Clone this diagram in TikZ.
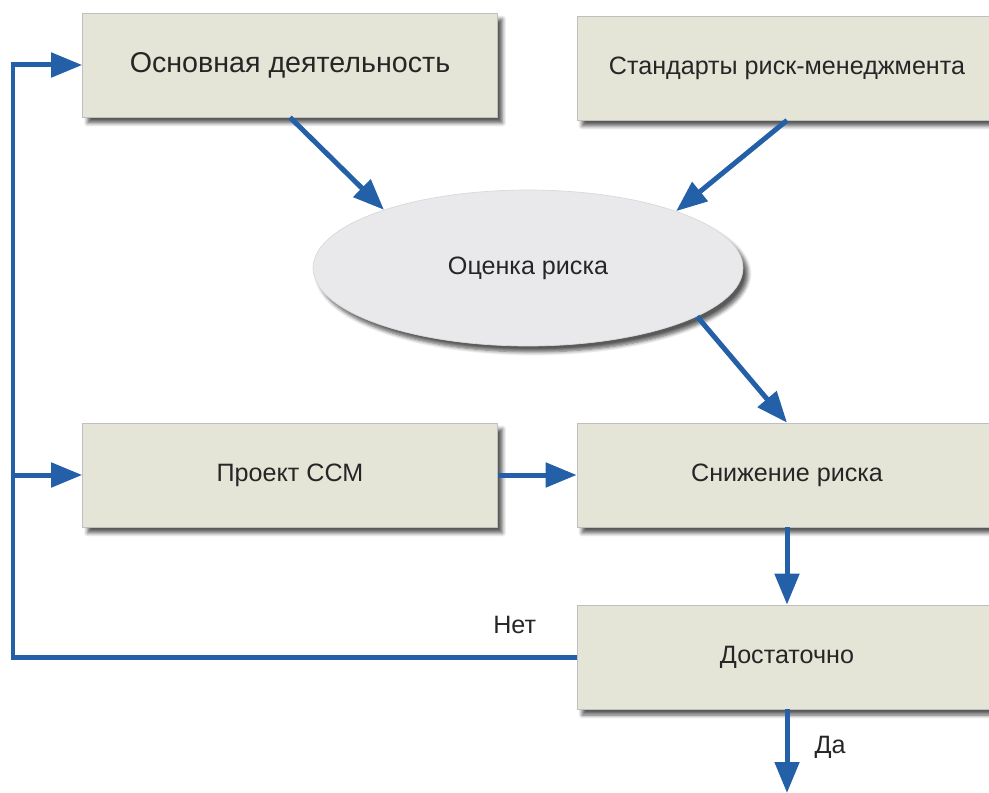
\documentclass[tikz,border=0pt]{standalone}
\usepackage{fontspec}
\setmainfont{Liberation Sans}
\usetikzlibrary{shapes.geometric,arrows.meta,shadows.blur}
\definecolor{flecha}{HTML}{2460A7}
\definecolor{caja}{HTML}{E4E5D7}
\definecolor{ovalo}{HTML}{E9E9EB}
\tikzset{
  sombra/.style={blur shadow={shadow xshift=0.1cm, shadow yshift=-0.12cm,
    shadow blur steps=6, shadow opacity=65}},
  bloque/.style={rectangle, draw=black!25, fill=caja, minimum width=8.4cm,
    minimum height=2.08cm, font=\fontsize{14.3}{16}\selectfont, text=black!85, sombra},
  flujo/.style={draw=flecha, line width=0.1cm, -{Triangle[length=0.62cm,width=0.48cm]}},
  rotulo/.style={font=\fontsize{14.3}{16}\selectfont, text=black!85, inner sep=0pt},
}
\begin{document}
\begin{tikzpicture}[x=0.02cm,y=-0.02cm]
    \clip (0,0) rectangle (989,793);
    % Bloques
    \node[bloque, minimum width=8.3cm, font=\fontsize{16.3}{18}\selectfont] (osnova) at (290,65) {Основная деятельность};
    \node[bloque] (standarty) at (787,68) {Стандарты риск-менеджмента};
    \node[ellipse, minimum width=8.6cm, minimum height=3.12cm, fill=ovalo, draw=black!15,
      font=\fontsize{14.3}{16}\selectfont, text=black!85, sombra] (ocenka) at (528,268) {Оценка риска};
    \node[bloque, minimum width=8.3cm] (proekt) at (290,475) {Проект ССМ};
    \node[bloque] (snizhenie) at (787,475) {Снижение риска};
    \node[bloque] (dostatochno) at (787,657) {Достаточно};
    % Puntos libres
    \coordinate (esquina) at (13,657);
    \coordinate (salida) at (787,793);
    % Flechas hacia la evaluacion
    \draw[flujo] (osnova.south) -- (ocenka.158);
    \draw[flujo] (standarty.south) -- (ocenka.21);
    \draw[flujo] (ocenka.-16) -- (snizhenie.north);
    % Proyecto y reduccion
    \draw[flujo] (proekt.east) -- (snizhenie.west);
    \draw[flujo] (snizhenie.south) -- (dostatochno.north);
    % Retorno "Нет"
    \draw[flujo] (dostatochno.west) -- node[rotulo, pos=0.11, above=0.42cm] {Нет} (esquina) |- (osnova.west);
    \draw[flujo] (esquina |- proekt.west) -- (proekt.west);
    % Salida "Да"
    \draw[flujo] (dostatochno.south) -- node[rotulo, pos=0.45, right=0.5cm] {Да} (salida);
\end{tikzpicture}
\end{document}
